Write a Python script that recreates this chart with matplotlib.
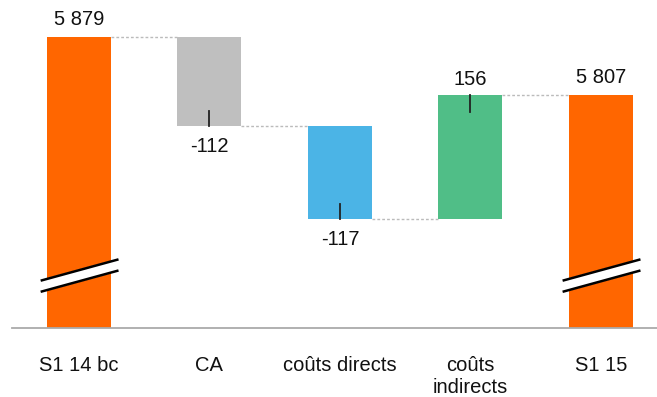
import matplotlib.pyplot as plt
import numpy as np

plt.rcParams['font.family'] = ['Liberation Sans', 'DejaVu Sans']

categories = ['S1 14 bc', 'CA', 'coûts directs', 'coûts\nindirects', 'S1 15']
start_value = 5879
deltas = [-112, -117, 156]
end_value = 5807
delta_labels = ['-112', '-117', '156']
colors = ['#FF6600', '#BFBFBF', '#4BB4E6', '#50BE87', '#FF6600']

y_min, y_max = 5513, 5926
width = 0.49
fs = 14.5
text_color = '#111111'

fig = plt.figure(figsize=(6.57, 3.97), dpi=100)
ax = fig.add_axes([12 / 657, 69 / 397, 645 / 657, 328 / 397])
x = np.arange(len(categories))

# running levels: levels[i] = value after bar i
levels = [start_value]
for d in deltas:
    levels.append(levels[-1] + d)
bottoms = [y_min]
heights = [start_value - y_min]
for i, d in enumerate(deltas):
    bottoms.append(min(levels[i], levels[i + 1]))
    heights.append(abs(d))
bottoms.append(y_min)
heights.append(end_value - y_min)

ax.bar(x, heights, bottom=bottoms, width=width, color=colors, zorder=2)

# dotted connectors
for i in range(4):
    ax.plot([x[i] + width / 2, x[i + 1] - width / 2], [levels[i], levels[i]],
            color='#BBBBBB', linestyle=(0, (2, 1.5)), linewidth=1, zorder=1)

# totals labels
for i, v in [(0, start_value), (4, end_value)]:
    ax.text(x[i], v + 10, f'{v:,}'.replace(',', ' '), ha='center', va='bottom',
            fontsize=fs, color=text_color)

# delta ticks and labels
for k, d in enumerate(deltas):
    i = k + 1
    y_end = levels[i]
    if d < 0:
        ax.plot([x[i], x[i]], [y_end, y_end + 19], color='#222222', linewidth=1.3, zorder=3)
        ax.text(x[i], y_end - 14, delta_labels[k], ha='center', va='top',
                fontsize=fs, color=text_color)
    else:
        ax.plot([x[i], x[i]], [y_end, y_end - 21], color='#222222', linewidth=1.3, zorder=3)
        ax.text(x[i], y_end + 8, delta_labels[k], ha='center', va='bottom',
                fontsize=fs, color=text_color)

# axis break marks on total bars
for i in [0, 4]:
    xl, xr = x[i] - width * 0.58, x[i] + width * 0.60
    yl, yr = 5573, 5599
    gap = 14
    ax.fill([xl, xr, xr, xl], [yl, yr, yr - gap, yl - gap], color='white', zorder=3)
    ax.plot([xl, xr], [yl, yr], color='black', linewidth=1.8, zorder=4)
    ax.plot([xl, xr], [yl - gap, yr - gap], color='black', linewidth=1.8, zorder=4)

ax.set_xlim(-0.513, 4.43)
ax.set_ylim(y_min, y_max)
ax.set_xticks(x)
ax.set_xticklabels(categories, fontsize=fs, va='top', color=text_color)
ax.tick_params(axis='x', length=0, pad=20)
ax.set_yticks([])
for s in ['top', 'right', 'left']:
    ax.spines[s].set_visible(False)
ax.spines['bottom'].set_color('#AAAAAA')
ax.spines['bottom'].set_linewidth(1.3)

fig.savefig('out.png', dpi=100)
